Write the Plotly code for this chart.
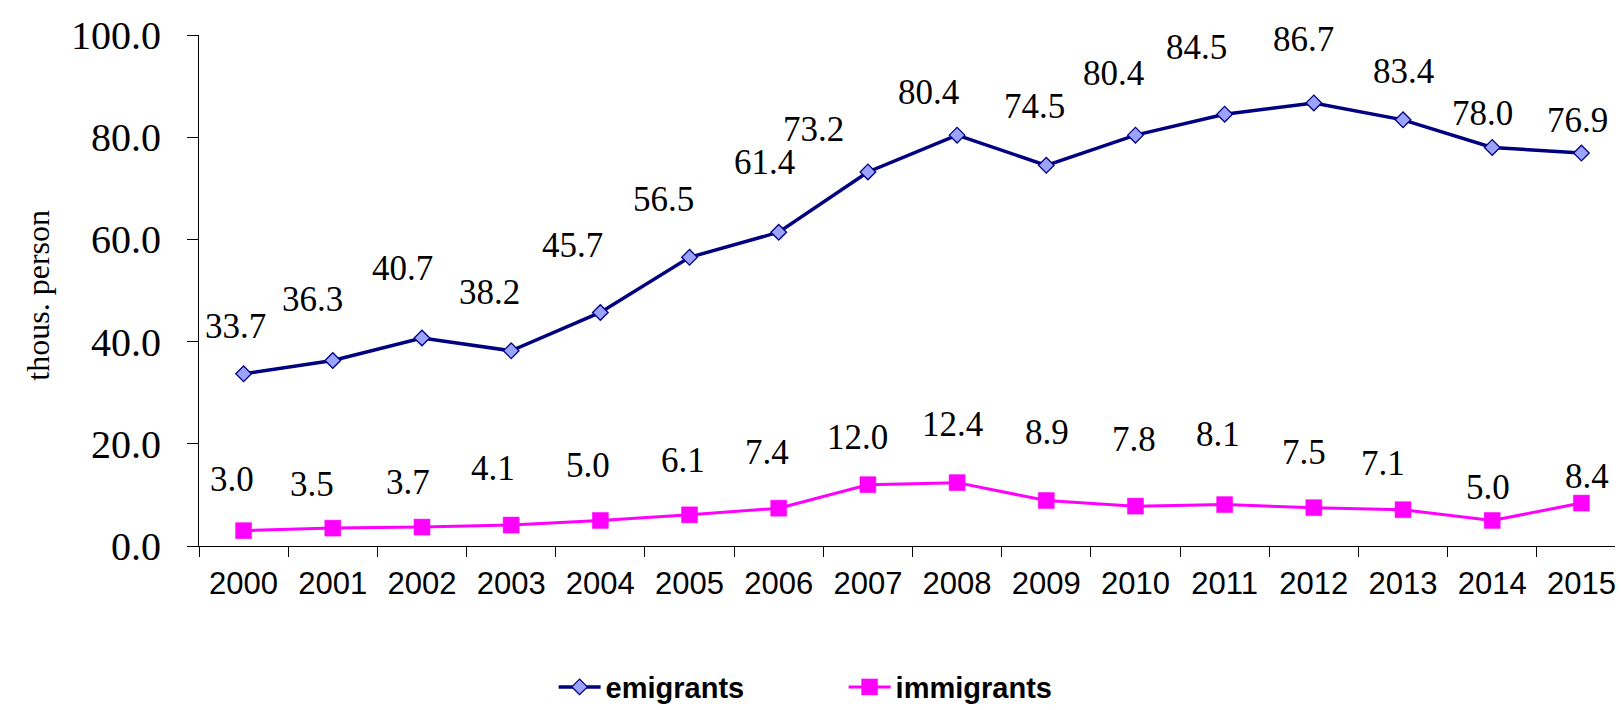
import plotly.graph_objects as go

years = [str(y) for y in range(2000, 2016)]
emigrants = [33.7, 36.3, 40.7, 38.2, 45.7, 56.5, 61.4, 73.2, 80.4, 74.5, 80.4, 84.5, 86.7, 83.4, 78.0, 76.9]
immigrants = [3.0, 3.5, 3.7, 4.1, 5.0, 6.1, 7.4, 12.0, 12.4, 8.9, 7.8, 8.1, 7.5, 7.1, 5.0, 8.4]
y_ticks = [0, 20, 40, 60, 80, 100]

# label offsets in pixels relative to each point (x shift, y shift upward)
emi_dx = [-8, -20, -19, -22, -28, -26, -14, -54, -29, -12, -22, -28, -10, 0, -10, -4]
emi_dy = [47, 61, 70, 58, 67, 58, 70, 42, 43, 59, 62, 67, 63, 48, 34, 33]
imm_dx = [-12, -21, -14, -18, -12, -7, -12, -10, -5, 1, -1, -7, -10, -20, -4, 6]
imm_dy = [51, 44, 45, 57, 55, 54, 56, 47, 58, 68, 67, 70, 55, 46, 33, 27]

SERIF = "Liberation Serif, Times New Roman, serif"
SANS = "Liberation Sans, Arial, sans-serif"

fig = go.Figure()
fig.add_trace(go.Scatter(
    x=years, y=emigrants, name="emigrants", mode="lines+markers",
    line=dict(color="#000080", width=3.5),
    marker=dict(symbol="diamond", size=12, color="#9CA3FF",
                line=dict(color="#000080", width=1.3)),
))
fig.add_trace(go.Scatter(
    x=years, y=immigrants, name="immigrants", mode="lines+markers",
    line=dict(color="#FF00FF", width=3),
    marker=dict(symbol="square", size=16, color="#FF00FF",
                line=dict(color="#FF00FF", width=0.5)),
))

annotations = []
# category axis: annotations are placed by category index
for i, (v, dx, dy) in enumerate(zip(emigrants, emi_dx, emi_dy)):
    annotations.append(dict(x=i, y=v, xref="x", yref="y", text=f"{v:.1f}",
                            showarrow=False, xshift=dx, yshift=dy,
                            font=dict(family=SERIF, size=35, color="black")))
for i, (v, dx, dy) in enumerate(zip(immigrants, imm_dx, imm_dy)):
    annotations.append(dict(x=i, y=v, xref="x", yref="y", text=f"{v:.1f}",
                            showarrow=False, xshift=dx, yshift=dy,
                            font=dict(family=SERIF, size=35, color="black")))
annotations.append(dict(x=-0.1128, y=0.49, xref="paper", yref="paper",
                        xanchor="center", yanchor="middle",
                        text="thous. person", textangle=-90, showarrow=False,
                        font=dict(family=SERIF, size=32, color="black")))

fig.update_layout(
    width=1623, height=710,
    margin=dict(l=191, r=5, t=27, b=158),
    paper_bgcolor="white", plot_bgcolor="white",
    showlegend=True,
    legend=dict(orientation="h", x=0.2485, y=-0.276, xanchor="left", yanchor="middle",
                font=dict(family=SANS, size=29, color="black", weight="bold"),
                itemwidth=42, entrywidth=233, bgcolor="rgba(0,0,0,0)"),
    annotations=annotations,
)
fig.update_xaxes(
    type="category", categoryorder="array", categoryarray=years,
    range=[-0.5, len(years) - 0.5],
    showgrid=False, zeroline=False,
    showline=True, linecolor="black", linewidth=1.2,
    ticks="outside", tickson="boundaries", ticklen=10, tickcolor="black", tickwidth=1,
    tickfont=dict(family=SANS, size=31, color="black"), tickangle=0,
    ticklabelstandoff=10,
)
fig.update_yaxes(
    range=[0, 100], tickvals=y_ticks, tickformat=".1f",
    showgrid=False, zeroline=False,
    showline=True, linecolor="black", linewidth=1.2,
    ticks="outside", ticklen=11, tickcolor="black", tickwidth=1,
    tickfont=dict(family=SERIF, size=40, color="black"),
    ticklabelstandoff=18,
)

fig.write_html("out.html")
